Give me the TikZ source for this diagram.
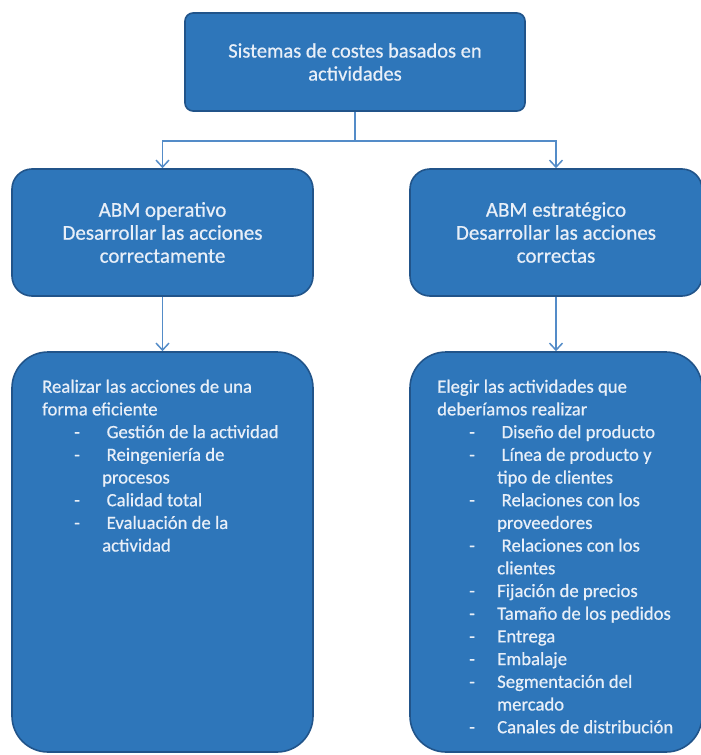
\documentclass[tikz,border=0pt]{standalone}
\usepackage{fontspec}
\setmainfont{Carlito}[FakeBold=0.6]
\usetikzlibrary{arrows.meta}

\definecolor{boxfill}{RGB}{46,118,186}
\definecolor{boxline}{RGB}{33,84,138}
\definecolor{linkcol}{RGB}{84,140,200}
\definecolor{boxtext}{RGB}{232,239,248}

\tikzset{
  panel/.style={draw=boxline, line width=1.6pt, fill=boxfill, text=boxtext,
                inner sep=0pt, align=center},
  headbox/.style={panel, rounded corners=8pt, font=\fontsize{20.5}{23}\selectfont},
  midbox/.style={panel, rounded corners=20pt, font=\fontsize{21}{23}\selectfont},
  listbox/.style={panel, rounded corners=36pt},
  listtext/.style={text=boxtext, inner sep=0pt, align=left, anchor=north west,
                   font=\fontsize{18.7}{22.7}\selectfont},
  link/.style={draw=linkcol, line width=1.5pt},
  linkarrow/.style={link, -{Straight Barb[length=7pt,width=13pt,line width=1.5pt]}},
}

% first-line strut, dash bullet and indents of the item lists
\newcommand{\firstline}{\rule{0pt}{14pt}}
\newcommand{\itm}{\hspace*{32pt}\makebox[28pt][l]{-}}
\newcommand{\sitm}{\itm\hspace*{4.5pt}}
\newcommand{\cont}{\hspace*{60pt}}

\begin{document}
\begin{tikzpicture}[x=1pt,y=-1pt]
\useasboundingbox (0,0) rectangle (701,755);

% top box
\node[headbox, minimum width=340pt, minimum height=98pt] (top) at (355,62)
  {Sistemas de costes basados en\\actividades};

% second row
\node[midbox, minimum width=301pt, minimum height=127pt] (midL) at (162.5,232.5)
  {ABM operativo\\Desarrollar las acciones\\correctamente};
\node[midbox, minimum width=292pt, minimum height=127pt] (midR) at (556,232.5)
  {ABM estrat\'egico\\Desarrollar las acciones\\correctas};

% third row
\node[listbox, minimum width=301pt, minimum height=400pt] (botL) at (162.5,552) {};
\node[listbox, minimum width=292pt, minimum height=400pt] (botR) at (556,552) {};

\node[listtext] (txtL) at (42,378.5)
  {\firstline Realizar las acciones de una\\
   forma eficiente\\
   \sitm Gestión de la actividad\\
   \sitm Reingeniería de\\
   \cont procesos\\
   \sitm Calidad total\\
   \sitm Evaluación de la\\
   \cont actividad};

\node[listtext] (txtR) at (437,378.5)
  {\firstline Elegir las actividades que\\
   deberíamos realizar\\
   \sitm Diseño del producto\\
   \sitm Línea de producto y\\
   \cont tipo de clientes\\
   \sitm Relaciones con los\\
   \cont proveedores\\
   \sitm Relaciones con los\\
   \cont clientes\\
   \itm Fijación de precios\\
   \itm Tamaño de los pedidos\\
   \itm Entrega\\
   \itm Embalaje\\
   \itm Segmentación del\\
   \cont mercado\\
   \itm Canales de distribución};

% connectors
\coordinate (split) at (top.south |- 0,141);
\draw[link] (top.south) -- (split);
\draw[linkarrow] (split) -| (midL.north);
\draw[linkarrow] (split) -| (midR.north);
\draw[linkarrow] (midL.south) -- (botL.north);
\draw[linkarrow] (midR.south) -- (botR.north);
\end{tikzpicture}
\end{document}
